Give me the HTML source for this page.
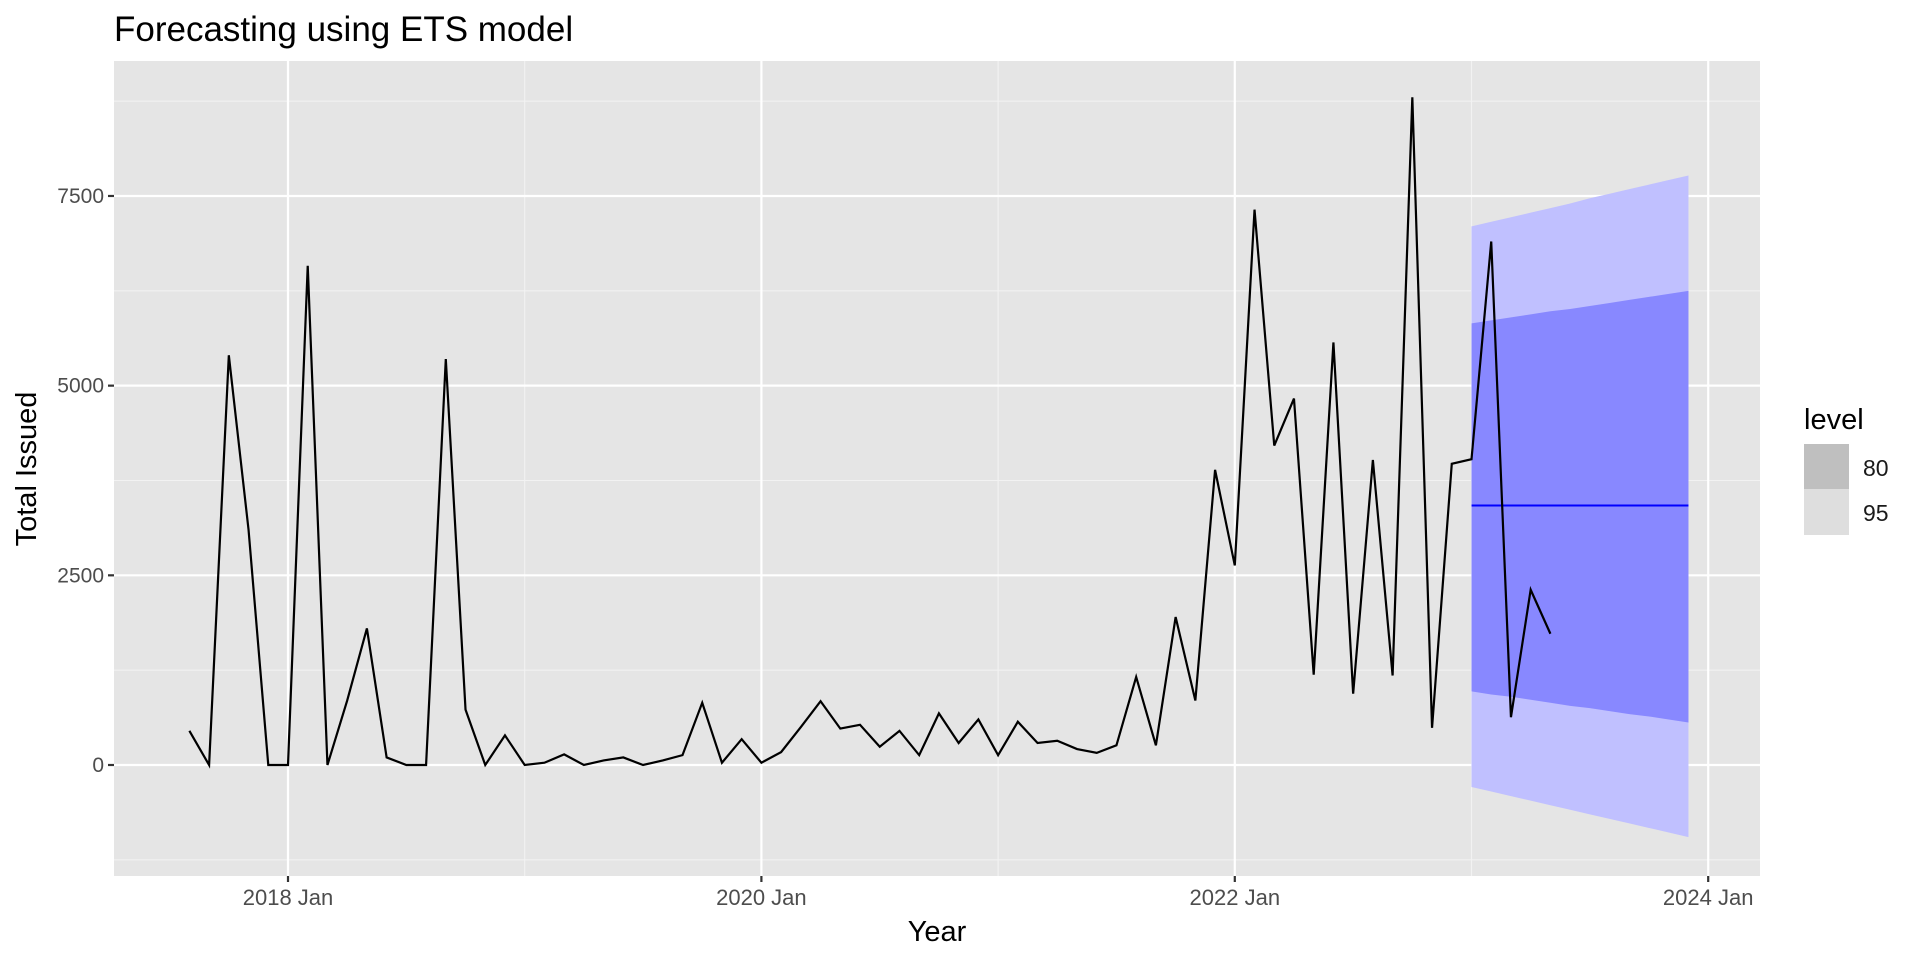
<!DOCTYPE html>
<html><head><meta charset="utf-8"><style>
html,body{margin:0;padding:0;background:#fff;}
svg{display:block;font-family:"Liberation Sans",Arial,sans-serif;}
</style></head><body>
<svg id="chart" width="1920" height="960" viewBox="0 0 1920 960">
<text x="114" y="41" font-size="35" fill="#000">Forecasting using ETS model</text>
<rect x="114" y="61" width="1646" height="815" fill="#e5e5e5"/>
<g id="grid"></g>
<g id="bands"></g>
<g id="lines"></g>
<g id="axes"></g>
<text x="27" y="469" font-size="29" fill="#000" text-anchor="middle" transform="rotate(-90 27 469)" dominant-baseline="central">Total Issued</text>
<text x="937" y="941" font-size="29" fill="#000" text-anchor="middle">Year</text>
<g>
<text x="1804" y="429" font-size="29" fill="#000">level</text>
<rect x="1804" y="444" width="45" height="45" fill="#bfbfbf"/>
<rect x="1804" y="489" width="45" height="46" fill="#dedede"/>
<text x="1863" y="476" font-size="23" fill="#1a1a1a">80</text>
<text x="1863" y="521" font-size="23" fill="#1a1a1a">95</text>
</g>
</svg>
<script>
const seriesStart = [2017, 8];
const issued = [450,0,5400,3100,0,
 0,6580,0,850,1800,100,0,0,5350,730,0,390,
 0,30,140,0,60,100,0,60,130,820,30,340,
 30,170,500,840,480,530,240,450,130,680,290,600,
 130,570,290,320,210,160,260,1160,260,1950,850,3890,
 2630,7320,4210,4830,1190,5570,940,4020,1180,8800,490,3970,
 4030,6900,630,2310,1730];
const forecastStart = [2023, 1];
const forecastMean = [3420,3420,3420,3420,3420,3420,3420,3420,3420,3420,3420,3420];
const upper80 = [5820,5860,5900,5940,5980,6010,6050,6090,6130,6170,6210,6250];
const lower80 = [970,930,900,860,820,780,750,710,670,640,600,560];
const upper95 = [7100,7160,7220,7280,7340,7400,7470,7530,7590,7650,7710,7770];
const lower95 = [-290,-350,-410,-470,-530,-590,-650,-710,-770,-830,-890,-950];
const yTicks = [0,2500,5000,7500];
const yMinor = [-1250,1250,3750,6250,8750];
const xTickYears = [2018,2020,2022,2024];
const xMinorYears = [2019,2021,2023];

const NS="http://www.w3.org/2000/svg";
const X0=288, PX_YEAR=236.7;
function xs(y,m){return X0+((y-2018)*12+(m-1))*PX_YEAR/12;}
function ys(v){return 765-v*0.07587;}
function mk(tag,attrs,parent){const e=document.createElementNS(NS,tag);for(const k in attrs)e.setAttribute(k,attrs[k]);parent.appendChild(e);return e;}
function monthX(start,i){const t=start[0]*12+(start[1]-1)+i;return xs(Math.floor(t/12),t%12+1);}
const grid=document.getElementById('grid'),bands=document.getElementById('bands'),lines=document.getElementById('lines'),axes=document.getElementById('axes');

yMinor.forEach(v=>{const l=mk('line',{x1:114,x2:1760,y1:ys(v),y2:ys(v),stroke:'#f2f2f2','stroke-width':1.1},grid);

});
xMinorYears.forEach(y=>{const l=mk('line',{x1:xs(y,1),x2:xs(y,1),y1:61,y2:876,stroke:'#f2f2f2','stroke-width':1.1},grid);

});
yTicks.forEach(v=>{const l=mk('line',{x1:114,x2:1760,y1:ys(v),y2:ys(v),stroke:'#fff','stroke-width':2.2},grid);


const t=mk('line',{x1:108,x2:114,y1:ys(v),y2:ys(v),stroke:'#333','stroke-width':2.2},axes);


const tx=mk('text',{x:104,y:ys(v)+7,'font-size':21,fill:'#4d4d4d','text-anchor':'end'},axes);tx.textContent=v;

});
xTickYears.forEach(y=>{const x=xs(y,1);const l=mk('line',{x1:x,x2:x,y1:61,y2:876,stroke:'#fff','stroke-width':2.2},grid);


const t=mk('line',{x1:x,x2:x,y1:876,y2:882,stroke:'#333','stroke-width':2.2},axes);


const tx=mk('text',{x:x,y:905,'font-size':22,fill:'#4d4d4d','text-anchor':'middle'},axes);tx.textContent=y+' Jan';

});

function bandPath(up,lo){let p='';up.forEach((v,i)=>{p+=(i?'L':'M')+monthX(forecastStart,i)+','+ys(v);});
for(let i=lo.length-1;i>=0;i--)p+='L'+monthX(forecastStart,i)+','+ys(lo[i]);return p+'Z';}
const b95=mk('path',{d:bandPath(upper95,lower95),fill:'#c0c0ff'},bands);


const b80=mk('path',{d:bandPath(upper80,lower80),fill:'#8888ff'},bands);


const mean=mk('polyline',{points:forecastMean.map((v,i)=>monthX(forecastStart,i)+','+ys(v)).join(' '),fill:'none',stroke:'#0000ff','stroke-width':2},lines);


const obs=mk('polyline',{points:issued.map((v,i)=>monthX(seriesStart,i)+','+ys(v)).join(' '),fill:'none',stroke:'#000','stroke-width':2.2,'stroke-linejoin':'miter'},lines);


</script>
</body></html>
